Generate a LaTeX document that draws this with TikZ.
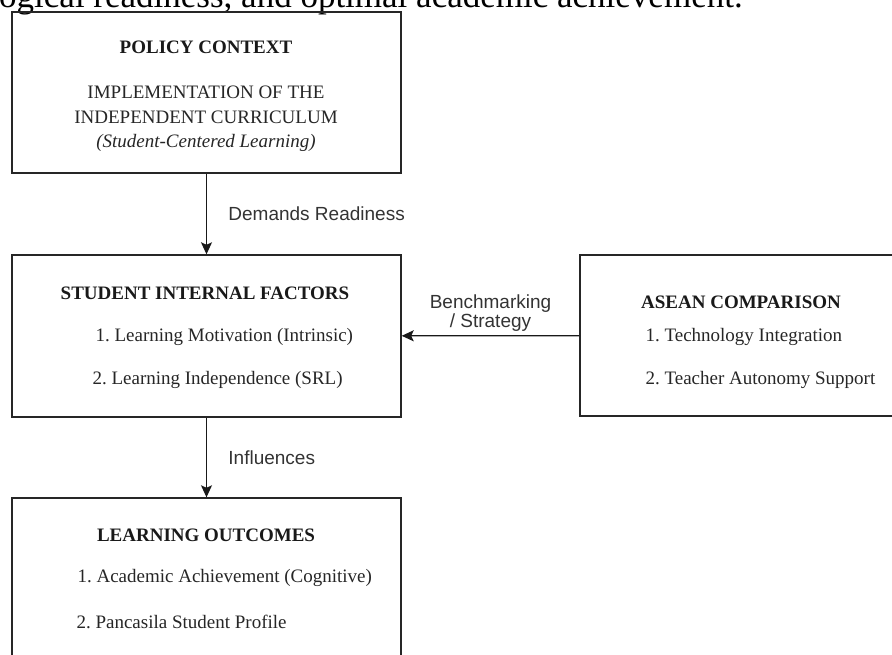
\documentclass[tikz,border=0pt]{standalone}
\usepackage{fontspec}
\setmainfont{Liberation Serif}
\setsansfont{Liberation Sans}
\usetikzlibrary{arrows.meta}
\frenchspacing

\tikzset{
  frame/.style={draw=black!85,line width=1.4pt,inner sep=0pt},
  head/.style={font=\fontsize{19}{24}\selectfont\bfseries,text=black!90},
  plain/.style={font=\fontsize{19}{24.5}\selectfont,text=black!85,align=center},
  item/.style={font=\fontsize{19}{24}\selectfont,text=black!85,anchor=west},
  link/.style={draw=black!90,line width=1.2pt,-{Stealth[length=12pt,width=11pt,inset=2.5pt]}},
  tag/.style={font=\sffamily\fontsize{19}{17.5}\selectfont,text=black!80}
}

\begin{document}
\begin{tikzpicture}[x=1pt,y=-1pt]
    \useasboundingbox (0,0) rectangle (892,654);
    \clip (0,0) rectangle (892,654);
    %
    \node[anchor=base west,font=\fontsize{35}{38}\selectfont,inner sep=0pt] (lead) at (-1,7) {ogical readiness, and optimal academic achievement.};
    %
    \node[frame,minimum width=389pt,minimum height=161pt] (policy) at (206.5,92.5) {};
    \node[frame,minimum width=389pt,minimum height=162pt] (internal) at (206.5,336) {};
    \node[frame,minimum width=316pt,minimum height=161pt] (asean) at (738,335.5) {};
    \node[frame,minimum width=389pt,minimum height=220pt] (outcomes) at (206.5,608) {};
    %
    \node[head] (policyhead) at (206,47) {POLICY CONTEXT};
    \node[plain] (policytext) at (206,119) {IMPLEMENTATION OF THE\\INDEPENDENT CURRICULUM\\\textit{(Student-Centered Learning)}};
    %
    \node[head] (internalhead) at (205,293) {STUDENT INTERNAL FACTORS};
    \node[item] (motivation) at (92,337) {1. Learning Motivation (Intrinsic)};
    \node[item] (independence) at (89,380) {2. Learning Independence (SRL)};
    %
    \node[head] (aseanhead) at (741,302) {ASEAN COMPARISON};
    \node[item] (technology) at (642,337) {1. Technology Integration};
    \node[item] (autonomy) at (642,380) {2. Teacher Autonomy Support};
    %
    \node[head] (outcomeshead) at (206,535) {LEARNING OUTCOMES};
    \node[item] (achievement) at (74,578) {1. Academic Achievement (Cognitive)};
    \node[item] (profile) at (73,622) {2. Pancasila Student Profile};
    %
    \draw[link] (policy) -- node[tag,anchor=west,xshift=18pt] (demands) {Demands Readiness} (internal);
    \draw[link] (asean) -- node[tag,above,align=center,inner sep=4pt] (bench) {Benchmarking\\/ Strategy} (internal);
    \draw[link] (internal) -- node[tag,anchor=west,xshift=18pt] (influences) {Influences} (outcomes.north);
    %
\end{tikzpicture}
\end{document}
